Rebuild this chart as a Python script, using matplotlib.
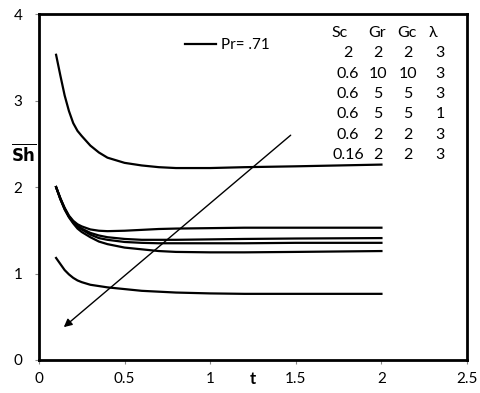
import matplotlib
matplotlib.use("Agg")
import matplotlib.pyplot as plt

plt.rcParams['font.family'] = ['Lato', 'DejaVu Sans']

# time points
t = [0.1, 0.125, 0.15, 0.175, 0.2, 0.225, 0.25, 0.3, 0.35, 0.4,
     0.5, 0.6, 0.7, 0.8, 1.0, 1.2, 1.5, 2.0]

# Sherwood number curves
sh_sc2 = [3.53, 3.29, 3.06, 2.88, 2.74, 2.65, 2.59, 2.48, 2.40, 2.34,
          2.28, 2.25, 2.23, 2.22, 2.22, 2.23, 2.24, 2.26]
sh_gr10 = [2.00, 1.87, 1.76, 1.67, 1.61, 1.57, 1.545, 1.51, 1.495, 1.49,
           1.495, 1.505, 1.515, 1.52, 1.525, 1.53, 1.53, 1.53]
sh_gr5_l3 = [2.00, 1.87, 1.75, 1.66, 1.60, 1.55, 1.52, 1.47, 1.44, 1.42,
             1.40, 1.39, 1.39, 1.39, 1.395, 1.40, 1.405, 1.41]
sh_gr5_l1 = [2.00, 1.86, 1.75, 1.66, 1.59, 1.54, 1.51, 1.45, 1.41, 1.39,
             1.365, 1.355, 1.35, 1.35, 1.35, 1.35, 1.355, 1.355]
sh_gr2 = [2.00, 1.86, 1.74, 1.65, 1.58, 1.52, 1.48, 1.42, 1.37, 1.34,
          1.30, 1.28, 1.26, 1.25, 1.245, 1.245, 1.25, 1.26]
sh_sc016 = [1.18, 1.11, 1.04, 0.99, 0.95, 0.92, 0.90, 0.87, 0.855, 0.84,
            0.82, 0.80, 0.79, 0.78, 0.77, 0.765, 0.765, 0.765]

curves = [sh_sc2, sh_gr10, sh_gr5_l3, sh_gr5_l1, sh_gr2, sh_sc016]

# parameter table shown in the plot
tbl_header = ["Sc", "Gr", "Gc", "λ"]
tbl_rows = [
    ["2", "2", "2", "3"],
    ["0.6", "10", "10", "3"],
    ["0.6", "5", "5", "3"],
    ["0.6", "5", "5", "1"],
    ["0.6", "2", "2", "3"],
    ["0.16", "2", "2", "3"],
]

# arrow from upper right to lower left
arrow_start = (1.47, 2.60)
arrow_end = (0.145, 0.38)

fig = plt.figure(figsize=(4.81, 3.93), dpi=100)
ax = fig.add_axes([0.081, 0.084, 0.890, 0.880])

for i, c in enumerate(curves):
    ax.plot(t, c, color='black', lw=1.6, solid_joinstyle='round',
            label='Pr= .71' if i == 0 else None)

ax.annotate('', xy=arrow_end, xytext=arrow_start,
            arrowprops=dict(arrowstyle='-|>', color='black', lw=1.0,
                            mutation_scale=12, shrinkA=0, shrinkB=0))

ax.set_xlim(0, 2.5)
ax.set_ylim(0, 4)
ax.set_xticks([0, 0.5, 1, 1.5, 2, 2.5])
ax.set_xticklabels(['0', '0.5', '1', '1.5', '2', '2.5'])
ax.set_yticks([0, 1, 2, 3, 4])
ax.tick_params(direction='out', length=3, width=0.8, color='#888888',
               labelsize=11)
ax.tick_params(axis='y', pad=9)
ax.tick_params(axis='x', pad=6)
for s in ax.spines.values():
    s.set_linewidth(2.0)

ax.legend(loc='center left', bbox_to_anchor=(0.31, 0.91), frameon=False,
          fontsize=11, handlelength=2.0, handletextpad=0.3)

# labels
ax.text(-0.035, 0.598, r'$\overline{\mathbf{Sh}}$', transform=ax.transAxes,
        fontsize=12, ha='center', va='center')
ax.text(0.5, -0.055, 't', transform=ax.transAxes, fontsize=12,
        fontweight='bold', ha='center', va='center')

# parameter table
hdr_x = [0.703, 0.790, 0.860, 0.921]
col_x = [0.722, 0.792, 0.862, 0.937]
row_y0 = 0.945
row_dy = 0.0587
for j, h in enumerate(tbl_header):
    ax.text(hdr_x[j], row_y0, h, transform=ax.transAxes, fontsize=11.5,
            ha='center', va='center')
for i, row in enumerate(tbl_rows):
    for j, v in enumerate(row):
        ax.text(col_x[j], row_y0 - (i + 1) * row_dy, v, transform=ax.transAxes,
                fontsize=11.5, ha='center', va='center')

fig.savefig('out.png', dpi=100)
